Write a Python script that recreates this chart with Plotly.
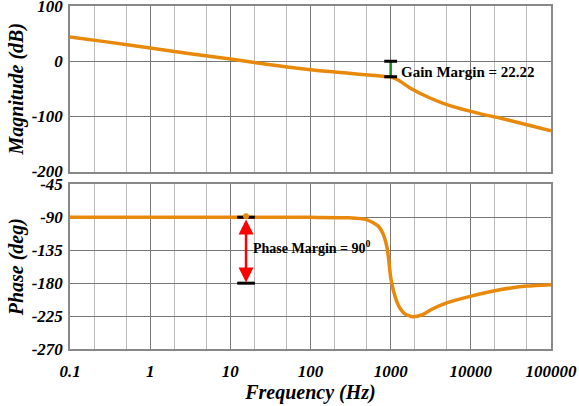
import numpy as np
import plotly.graph_objects as go

# ---- data ----
mag_freq = [0.1, 0.3, 1, 3, 10, 30, 100, 200, 400, 700, 900, 1000, 1300, 1740, 3090, 5470, 12900, 23000, 40900, 100000]
mag_db   = [44, 34.5, 24, 14, 4, -6, -15.5, -19.5, -23.5, -26.5, -28, -28.5, -36, -48.5, -66.7, -80.6, -95, -103, -112, -126]

ph_freq = [0.1, 1, 10, 100, 300, 500, 700, 800, 900, 950, 1000, 1050, 1100, 1200, 1300, 1500, 1900, 2500, 3100, 5000, 9800, 23000, 50000, 100000]
ph_deg  = [-90, -90, -90, -90, -90.5, -93, -102, -112, -131, -150, -172, -184, -193, -206, -214, -222, -226, -223, -217, -207, -198, -189, -184, -182]

freq_ticks = [0.1, 1, 10, 100, 1000, 10000, 100000]
freq_labels = ["0.1", "1", "10", "100", "1000", "10000", "100000"]
mag_ticks = [-200, -100, 0, 100]
mag_labels = ["-200", "-100", "0", "100"]
ph_ticks = [-270, -225, -180, -135, -90, -45]
ph_labels = ["-270", "-225", "-180", "-135", "-90", "-45"]

gm_freq = 1000
gm_top, gm_bot = 0, -28
gm_text = "Gain Margin = 22.22"
pm_freq = 15.7
pm_top, pm_bot = -90, -180
pm_text = "Phase Margin = 90<sup>0</sup>"

ORANGE = "#E8890C"
FONT = "Liberation Serif"

fig = go.Figure()
fig.add_trace(go.Scatter(x=mag_freq, y=mag_db, mode="lines", line=dict(color=ORANGE, width=3.5, shape="spline", smoothing=0.6),
                         xaxis="x", yaxis="y", showlegend=False))
fig.add_trace(go.Scatter(x=ph_freq, y=ph_deg, mode="lines", line=dict(color=ORANGE, width=3.5, shape="spline", smoothing=0.6),
                         xaxis="x2", yaxis="y2", showlegend=False))

# gain margin I-bar
hw = 10 ** 0.08
fig.add_trace(go.Scatter(x=[gm_freq, gm_freq], y=[gm_top, gm_bot], mode="lines", line=dict(color="#1a8a1a", width=2.5),
                         xaxis="x", yaxis="y", showlegend=False))
for yv in (gm_top, gm_bot):
    fig.add_trace(go.Scatter(x=[gm_freq / hw, gm_freq * hw], y=[yv, yv], mode="lines", line=dict(color="black", width=3),
                             xaxis="x", yaxis="y", showlegend=False))

# phase margin I-bar
hw2 = 10 ** 0.11
for yv in (pm_top, pm_bot):
    fig.add_trace(go.Scatter(x=[pm_freq / hw2, pm_freq * hw2], y=[yv, yv], mode="lines", line=dict(color="black", width=3),
                             xaxis="x2", yaxis="y2", showlegend=False))
fig.add_trace(go.Scatter(x=[pm_freq], y=[pm_top + 1.5], mode="markers", marker=dict(color=ORANGE, size=6),
                         xaxis="x2", yaxis="y2", showlegend=False))

fig.add_annotation(x=np.log10(pm_freq), y=pm_bot + 1, ax=np.log10(pm_freq), ay=pm_top - 1,
                   xref="x2", yref="y2", axref="x2", ayref="y2", text="", showarrow=True,
                   arrowhead=2, arrowside="end+start", arrowsize=1.2, arrowwidth=2.5, arrowcolor="red")
fig.add_annotation(x=np.log10(pm_freq * 1.16), y=-131, xref="x2", yref="y2", text=pm_text, showarrow=False,
                   xanchor="left", yanchor="middle", font=dict(family=FONT, size=14, color="black", weight="bold"))
fig.add_annotation(x=np.log10(gm_freq * 1.27), y=-19, xref="x", yref="y", text=gm_text, showarrow=False,
                   xanchor="left", yanchor="middle", font=dict(family=FONT, size=15, color="black", weight="bold"))

tickfont = dict(family=FONT, size=17, color="black", weight="bold", style="italic")
titlefont = dict(family=FONT, size=20, color="black", weight="bold", style="italic")

xcommon = dict(type="log", range=[-1, 5], showgrid=True, gridcolor="#777", gridwidth=1,
               showline=True, linecolor="#888", linewidth=1.5, mirror=True, ticks="",
               tickvals=freq_ticks, ticktext=freq_labels, zeroline=False, automargin=False,
               ticklabeloverflow="allow",
               minor=dict(showgrid=True, gridcolor="#bbb", gridwidth=1, ticks=""))
ycommon = dict(showgrid=True, gridcolor="#777", showline=True, linecolor="#888", linewidth=1.5, mirror=True,
               zeroline=False, ticks="", tickfont=tickfont, automargin=False, ticklabelstandoff=2,
               ticklabeloverflow="allow")

fig.update_layout(
    width=579, height=406,
    margin=dict(l=70, r=28, t=6, b=57),
    plot_bgcolor="white", paper_bgcolor="white",
    xaxis=dict(**xcommon, domain=[0, 1], anchor="y", showticklabels=False, matches="x2"),
    xaxis2=dict(**xcommon, domain=[0, 1], anchor="y2", tickfont=tickfont, ticklabelstandoff=6,
                title=dict(text="Frequency (Hz)", font=titlefont, standoff=0)),
    yaxis=dict(**ycommon, domain=[0.5174, 1], range=[-200, 100], tickvals=mag_ticks, ticktext=mag_labels,
               title=dict(text="Magnitude (dB)", font=titlefont, standoff=3)),
    yaxis2=dict(**ycommon, domain=[0, 0.4797], range=[-270, -45], tickvals=ph_ticks, ticktext=ph_labels,
                title=dict(text="Phase (deg)", font=titlefont, standoff=3)),
)

fig.write_html("out.html", config={"displayModeBar": False},
               post_script="document.body.style.margin='0px';document.body.style.padding='0px';")
